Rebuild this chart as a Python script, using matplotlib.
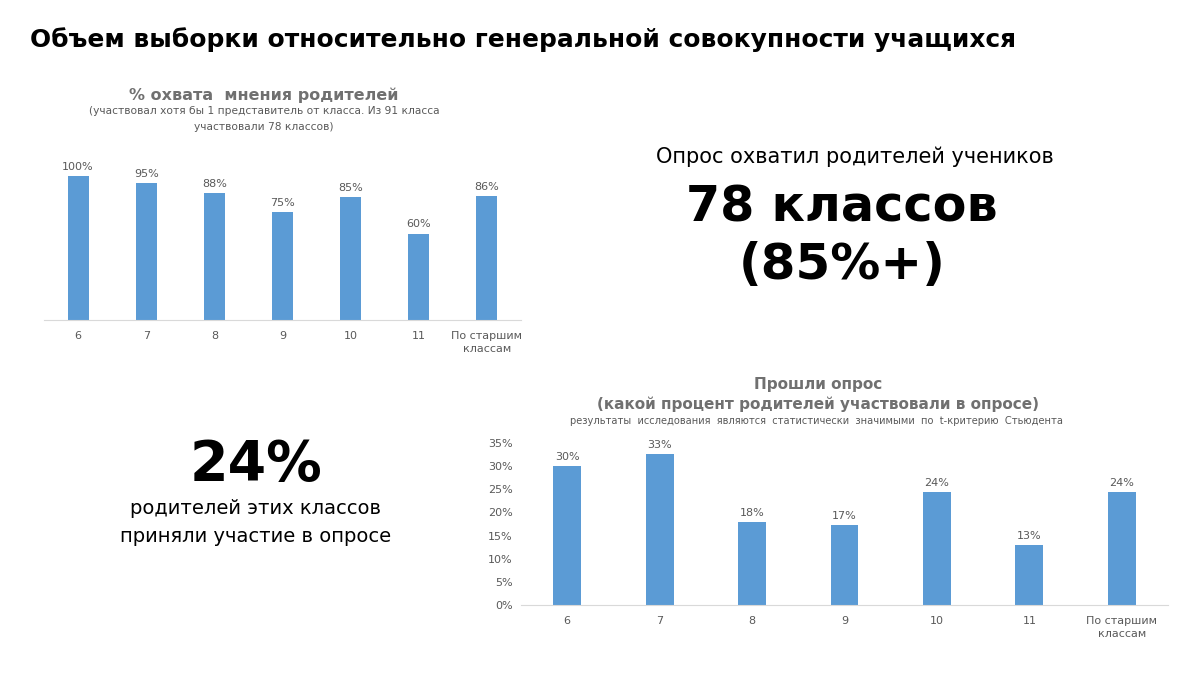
import matplotlib
matplotlib.use("Agg")
import matplotlib.pyplot as plt

# данные
classes = ["6", "7", "8", "9", "10", "11", "По старшим\nклассам"]
coverage = [1.00, 0.95, 0.88, 0.75, 0.85, 0.60, 0.86]  # % охвата мнения родителей
passed = [0.30, 0.326, 0.179, 0.173, 0.244, 0.13, 0.245]  # прошли опрос
y_ticks = [0, 0.05, 0.10, 0.15, 0.20, 0.25, 0.30, 0.35]

blue = "#5B9BD5"
gray = "#595959"
title_gray = "#707070"

plt.rcParams['font.family'] = ['DejaVu Sans']

fig = plt.figure(figsize=(12, 6.75), dpi=100)

def px(x, y):
    # пиксели -> доли фигуры
    return x / 1200, 1 - y / 675

# заголовок слайда
fig.text(*px(30, 40), "Объем выборки относительно генеральной совокупности учащихся",
         fontsize=17.9, fontweight="bold", ha="left", va="center", color="black")

# верхний график
ax1 = fig.add_axes([44 / 1200, 1 - 320 / 675, 477 / 1200, 173 / 675])
xs = range(len(classes))
bars = ax1.bar(xs, coverage, width=0.31, color=blue)
for b, v in zip(bars, coverage):
    ax1.text(b.get_x() + b.get_width() / 2, v + 0.03, f"{round(v * 100)}%",
             ha="center", va="bottom", fontsize=8, color=gray)
ax1.set_xlim(-0.5, len(classes) - 0.5)
ax1.set_ylim(0, 1.2)
ax1.set_yticks([])
ax1.set_xticks(list(xs))
ax1.set_xticklabels(classes, fontsize=8, color=gray, linespacing=1.4)
ax1.tick_params(axis="x", length=0, pad=8)
for s in ["top", "right", "left"]:
    ax1.spines[s].set_visible(False)
ax1.spines["bottom"].set_color("#D9D9D9")

fig.text(*px(264, 95), "% охвата  мнения родителей", fontsize=11.5, fontweight="bold",
         ha="center", va="center", color=title_gray)
fig.text(*px(264, 111), "(участвовал хотя бы 1 представитель от класса. Из 91 класса",
         fontsize=7.7, ha="center", va="center", color=gray)
fig.text(*px(264, 127), "участвовали 78 классов)",
         fontsize=7.7, ha="center", va="center", color=gray)

# крупные цифры справа сверху
fig.text(*px(855, 157), "Опрос охватил родителей учеников", fontsize=15,
         ha="center", va="center", color="black")
fig.text(*px(842, 207), "78 классов", fontsize=35.5, fontweight="bold",
         ha="center", va="center", color="black")
fig.text(*px(842, 265), "(85%+)", fontsize=36, fontweight="bold",
         ha="center", va="center", color="black")

# слева снизу
fig.text(*px(256, 465), "24%", fontsize=40, fontweight="bold",
         ha="center", va="center", color="black")
fig.text(*px(256, 509), "родителей этих классов", fontsize=14,
         ha="center", va="center", color="black")
fig.text(*px(256, 536), "приняли участие в опросе", fontsize=14,
         ha="center", va="center", color="black")

# нижний график
ax2 = fig.add_axes([521 / 1200, 1 - 605 / 675, 647 / 1200, 162 / 675])
bars2 = ax2.bar(xs, passed, width=0.30, color=blue)
for b, v in zip(bars2, passed):
    ax2.text(b.get_x() + b.get_width() / 2, v + 0.008, f"{round(v * 100)}%",
             ha="center", va="bottom", fontsize=8, color=gray)
ax2.set_xlim(-0.5, len(classes) - 0.5)
ax2.set_ylim(0, 0.35)
ax2.set_yticks(y_ticks)
ax2.set_yticklabels([f"{round(t * 100)}%" for t in y_ticks], fontsize=8, color=gray)
ax2.set_xticks(list(xs))
ax2.set_xticklabels(classes, fontsize=8, color=gray, linespacing=1.4)
ax2.tick_params(axis="x", length=0, pad=8)
ax2.tick_params(axis="y", length=0, pad=6)
for s in ["top", "right", "left"]:
    ax2.spines[s].set_visible(False)
ax2.spines["bottom"].set_color("#D9D9D9")

fig.text(*px(818, 384), "Прошли опрос", fontsize=11, fontweight="bold",
         ha="center", va="center", color=title_gray)
fig.text(*px(818, 404), "(какой процент родителей участвовали в опросе)", fontsize=11,
         fontweight="bold", ha="center", va="center", color=title_gray)
fig.text(*px(817, 421), "результаты  исследования  являются  статистически  значимыми  по  t-критерию  Стьюдента",
         fontsize=7.1, ha="center", va="center", color=gray)

fig.savefig("out.png", dpi=100)
